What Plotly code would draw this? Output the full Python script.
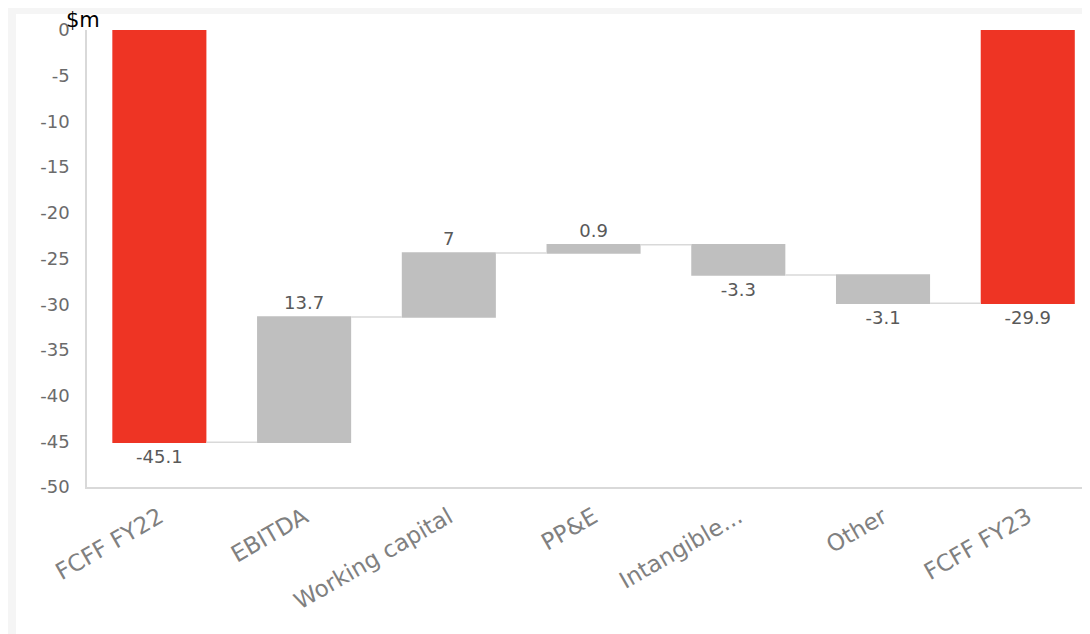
import plotly.graph_objects as go

categories = ["FCFF FY22", "EBITDA", "Working capital", "PP&E", "Intangible...", "Other", "FCFF FY23"]
values = [-45.1, 13.7, 7, 0.9, -3.3, -3.1, -29.9]
measures = ["absolute", "relative", "relative", "relative", "relative", "relative", "total"]
labels = ["-45.1", "13.7", "7", "0.9", "-3.3", "-3.1", "-29.9"]
y_ticks = [0, -5, -10, -15, -20, -25, -30, -35, -40, -45, -50]

RED = "#EE3424"
GREY = "#BFBFBF"
TXT = "#595959"
FONT = "DejaVu Sans"

fig = go.Figure(go.Waterfall(
    x=categories,
    y=values,
    measure=measures,
    text=labels,
    textposition="outside",
    textfont=dict(family=FONT, size=18, color=TXT),
    increasing=dict(marker=dict(color=GREY)),
    decreasing=dict(marker=dict(color=GREY)),
    totals=dict(marker=dict(color=RED)),
    connector=dict(mode="between", line=dict(color="#D9D9D9", width=1.5)),
    width=0.65,
    cliponaxis=False,
    hoverinfo="skip",
))

# page body has an 8px margin, so the figure is 8px smaller than the window
fig.update_layout(
    width=1082, height=626,
    margin=dict(l=79, r=0, t=22, b=147),
    paper_bgcolor="#F5F5F5",
    plot_bgcolor="white",
    showlegend=False,
    font=dict(family=FONT, size=18, color=TXT),
    shapes=[dict(type="rect", xref="paper", yref="paper",
                 x0=-0.0708, x1=1.2, y0=-0.5, y1=1.035,
                 fillcolor="white", line=dict(width=0), layer="below")],
    annotations=[dict(text="$m", xref="paper", yref="paper",
                      x=-0.004, y=1.022, xanchor="center", yanchor="middle",
                      showarrow=False, font=dict(family=FONT, size=21, color="#000000"))],
)

fig.update_xaxes(
    range=[-0.5, 6.43],
    tickangle=-30,
    showline=True, linecolor="#D9D9D9", linewidth=1.5,
    showgrid=False, ticks="",
    tickfont=dict(family=FONT, size=23, color="#808080"),
    ticklabelstandoff=6,
)
fig.update_yaxes(
    range=[-50, 0],
    tickvals=y_ticks,
    ticktext=[str(v) for v in y_ticks],
    showline=True, linecolor="#D9D9D9", linewidth=1.5,
    showgrid=False, zeroline=False, ticks="",
    tickfont=dict(family=FONT, size=18, color="#6B6B6B"),
    ticklabelstandoff=12,
)

fig.write_html("out.html")
